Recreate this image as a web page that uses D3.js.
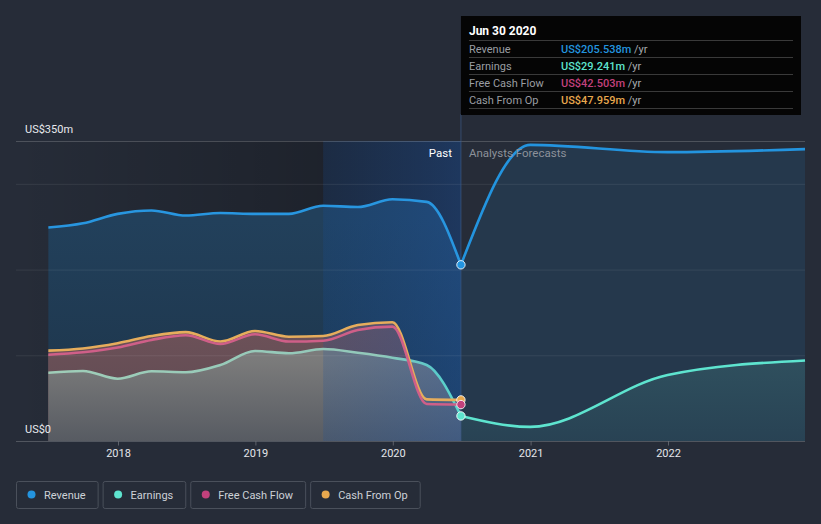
<!DOCTYPE html>
<html><head><meta charset="utf-8">
<script src="https://cdn.jsdelivr.net/npm/d3@7"></script>
<style>
html,body{margin:0;padding:0;background:#262c38;}
svg{display:block;font-family:Roboto,"Open Sans",sans-serif;}
</style></head><body>
<svg id="chart" width="821" height="524"></svg>
<script>
// ---------- data ----------
const pastDates = ["2017-06-30","2017-09-30","2017-12-31","2018-03-31","2018-06-30","2018-09-30","2018-12-31","2019-03-31","2019-06-30","2019-09-30","2019-12-31","2020-03-31","2020-06-30"];
const revenuePast  = [249, 254, 265, 269, 263, 266, 265, 265, 274.5, 273, 282, 279, 205.538];
const earningsPast = [79.7, 81.7, 72.7, 81.3, 80.2, 88.7, 105, 102.3, 107.3, 103, 97.2, 88.7, 29.241];
const fcfPast      = [100.7, 103.5, 109, 117.9, 123.3, 113.2, 124.5, 116, 117, 129.5, 133.4, 43.2, 42.503];
const cfoPast      = [105.4, 108, 114, 122.5, 127, 116, 128.4, 121.7, 122.5, 135.3, 138.5, 48.6, 47.959];
const forecastDates = ["2020-06-30","2020-12-31","2021-12-31","2022-12-31"];
const revenueForecast  = [205.538, 345.5, 337, 340.5];
const earningsForecast = [29.241, 16.5, 77, 94];
const gridValues = [100, 200, 300];
const yLabelValues = [0, 350];
const yLabelTexts = ["US$0", "US$350m"];
const xTickYears = [2018, 2019, 2020, 2021, 2022];
const seriesNames = ["Revenue", "Earnings", "Free Cash Flow", "Cash From Op"];
const seriesColors = ["#2394df", "#5ee4cf", "#c2417c", "#e8a84e"];
const tooltipTitle = "Jun 30 2020";
const tooltipValues = ["US$205.538m", "US$29.241m", "US$42.503m", "US$47.959m"];
const highlightStart = "2019-06-30";

// ---------- setup ----------
const parse = d3.utcParse("%Y-%m-%d");
const svg = d3.select("#chart");
const x = d3.scaleUtc().domain([new Date(Date.UTC(2018,0,1)), new Date(Date.UTC(2022,0,1))]).range([118, 668]);
const y = d3.scaleLinear().domain([0, 350]).range([441, 141]);
const plotLeft = 16, plotRight = 805;
const pd = pastDates.map(parse), fd = forecastDates.map(parse);
const past = (vals) => vals.map((v,i)=>({d:pd[i], v}));
const fore = (vals) => vals.map((v,i)=>({d:fd[i], v}));
const nowX = x(pd[pd.length-1]);
const hlX = x(parse(highlightStart));

const defs = svg.append("defs");
function lin(id, attrs, stops){
  const g = defs.append("linearGradient").attr("id", id).attr("gradientUnits","userSpaceOnUse");
  Object.entries(attrs).forEach(([k,v])=>g.attr(k,v));
  stops.forEach(s=>g.append("stop").attr("offset",s[0]).attr("stop-color",s[1]).attr("stop-opacity", s[2]===undefined?1:s[2]));
}
lin("shade", {x1:plotLeft,x2:hlX,y1:0,y2:0}, [[0,"#000",0],[1,"#000",0.22]]);
lin("hl", {x1:hlX,x2:nowX,y1:0,y2:0}, [[0,"#1450a0",0.2],[1,"#1e5ab0",0.38]]);
lin("revPast", {x1:0,x2:0,y1:220,y2:441}, [[0,"#22405b"],[1,"#1d3449"]]);
lin("cfPast", {x1:0,x2:0,y1:320,y2:441}, [[0,"#6e5259"],[1,"#5c4951"]]);
lin("earnPast", {x1:0,x2:0,y1:360,y2:441}, [[0,"#7b7b7b"],[1,"#575b62"]]);
lin("earnStroke", {x1:x(pd[0]),x2:nowX,y1:0,y2:0}, [[0,"#9fcdb8"],[0.8,"#92c8ba"],[0.93,"#5cc9c9"],[1,"#5ad8cd"]]);
lin("earnFore", {x1:0,x2:0,y1:360,y2:441}, [[0,"#6ee0cc",0.14],[1,"#5ee4cf",0.06]]);

const curve = d3.curveMonotoneX;
const area = d3.area().x(d=>x(d.d)).y0(y(0)).y1(d=>y(d.v)).curve(curve);
const line = d3.line().x(d=>x(d.d)).y(d=>y(d.v)).curve(curve);

// past shading
svg.append("rect").attr("x",plotLeft).attr("y",y(350)).attr("width",nowX-plotLeft).attr("height",y(0)-y(350)).attr("fill","url(#shade)");

// past areas
svg.append("path").datum(past(revenuePast)).attr("d",area).attr("fill","url(#revPast)");
svg.append("path").datum(past(cfoPast)).attr("d",area).attr("fill","url(#cfPast)");
svg.append("path").datum(past(fcfPast)).attr("d",area).attr("fill","url(#cfPast)");
svg.append("path").datum(past(earningsPast)).attr("d",area).attr("fill","url(#earnPast)");

// forecast areas
svg.append("path").datum(fore(revenueForecast)).attr("d",area).attr("fill","#2394df").attr("fill-opacity",0.12);
svg.append("path").datum(fore(earningsForecast)).attr("d",area).attr("fill","url(#earnFore)");

// highlight overlay (last year)
svg.append("rect").attr("x",hlX).attr("y",y(350)).attr("width",nowX-hlX).attr("height",y(0)-y(350)).attr("fill","url(#hl)");

// gridlines
svg.append("g").selectAll("line").data(gridValues).join("line")
  .attr("x1",plotLeft).attr("x2",plotRight).attr("y1",d=>y(d)+0.5).attr("y2",d=>y(d)+0.5)
  .attr("stroke","#ffffff").attr("stroke-opacity",0.08);
svg.append("line").attr("x1",plotLeft).attr("x2",plotRight).attr("y1",y(350)+0.5).attr("y2",y(350)+0.5)
  .attr("stroke","#ffffff").attr("stroke-opacity",0.18);
svg.append("line").attr("x1",plotLeft).attr("x2",plotRight).attr("y1",y(0)+0.5).attr("y2",y(0)+0.5)
  .attr("stroke","#ffffff").attr("stroke-opacity",0.2);

// x axis
const xAxis = svg.append("g").attr("transform",`translate(0,${y(0)+0.5})`)
  .call(d3.axisBottom(x).tickValues(xTickYears.map(yr=>new Date(Date.UTC(yr,0,1)))).tickFormat(d3.utcFormat("%Y")).tickSize(4).tickPadding(4));
xAxis.select(".domain").remove();
xAxis.selectAll(".tick line").attr("stroke","#ffffff").attr("stroke-opacity",0.25);
xAxis.selectAll(".tick text").attr("fill","#e4e6ea").attr("font-size",11).attr("font-family","Roboto");

// y labels
svg.append("g").selectAll("text").data(yLabelValues).join("text")
  .attr("x",25).attr("y",d=>y(d)-8).text((d,i)=>yLabelTexts[i])
  .attr("fill","#e8eaee").attr("font-size",11);

// vertical "now" line
svg.append("line").attr("x1",nowX).attr("x2",nowX).attr("y1",114).attr("y2",y(0))
  .attr("stroke","#3a5a86").attr("stroke-opacity",0.7).attr("stroke-width",1);

// lines
svg.append("path").datum(past(revenuePast)).attr("d",line).attr("fill","none").attr("stroke","#2896e0").attr("stroke-width",2.6);
svg.append("path").datum(past(earningsPast)).attr("d",line).attr("fill","none").attr("stroke","url(#earnStroke)").attr("stroke-width",2.6);
svg.append("path").datum(past(cfoPast)).attr("d",line).attr("fill","none").attr("stroke","#e6ad5c").attr("stroke-width",2.6);
svg.append("path").datum(past(fcfPast)).attr("d",line).attr("fill","none").attr("stroke","#cf5f88").attr("stroke-width",2.6);
svg.append("path").datum(fore(revenueForecast)).attr("d",line).attr("fill","none").attr("stroke","#2394df").attr("stroke-width",2.6);
svg.append("path").datum(fore(earningsForecast)).attr("d",line).attr("fill","none").attr("stroke","#5ee4cf").attr("stroke-width",2.6);

// dots at current date
const dotVals = [revenuePast, earningsPast, fcfPast, cfoPast].map(a=>a[a.length-1]);
const dotOrder = [3,2,1,0];
svg.append("g").selectAll("circle").data(dotOrder).join("circle")
  .attr("cx",nowX).attr("cy",i=>y(dotVals[i])).attr("r",4.2)
  .attr("fill",i=>seriesColors[i]).attr("stroke","#ffffff").attr("stroke-width",1).attr("stroke-opacity",0.85);

// Past / Analysts Forecasts
svg.append("text").attr("x",nowX-9).attr("y",157).attr("text-anchor","end").attr("fill","#ffffff").attr("font-size",11.5).text("Past");
svg.append("text").attr("x",nowX+8).attr("y",157).attr("fill","#8c919a").attr("font-size",11.5).text("Analysts Forecasts");

// tooltip
const tt = svg.append("g");
tt.append("rect").attr("x",nowX).attr("y",16).attr("width",801-nowX).attr("height",99).attr("fill","#050505");
tt.append("text").attr("x",nowX+8).attr("y",35).attr("fill","#ffffff").attr("font-size",12).attr("font-weight","bold").text(tooltipTitle);
const sepY = [40,57,74,91,108];
tt.selectAll("line").data(sepY).join("line").attr("x1",nowX+8).attr("x2",793).attr("y1",d=>d+0.5).attr("y2",d=>d+0.5).attr("stroke","#3a3a3a");
seriesNames.forEach((n,i)=>{
  const by = sepY[i]+12.5;
  tt.append("text").attr("x",nowX+8).attr("y",by).attr("fill","#9a9da2").attr("font-size",11).text(n);
  const t = tt.append("text").attr("x",561).attr("y",by).attr("font-size",11);
  t.append("tspan").attr("fill",seriesColors[i]).attr("font-weight",500).text(tooltipValues[i]);
  t.append("tspan").attr("fill","#a8abb0").text(" /yr");
});

// legend
const lg = svg.append("g");
let lx = 16.5;
seriesNames.forEach((n,i)=>{
  const g = lg.append("g");
  const rect = g.append("rect").attr("y",481.5).attr("height",27).attr("rx",2).attr("fill","none").attr("stroke","#4a505b");
  g.append("circle").attr("cx",lx+15).attr("cy",494.5).attr("r",4).attr("fill",seriesColors[i]);
  const t = g.append("text").attr("x",lx+27.5).attr("y",498.5).attr("fill","#cdd1d7").attr("font-size",11).text(n);
  const w = 27.5 + t.node().getComputedTextLength() + 12.5;
  rect.attr("x",lx).attr("width",w);
  lx += w + 5;
});
</script>
</body></html>
